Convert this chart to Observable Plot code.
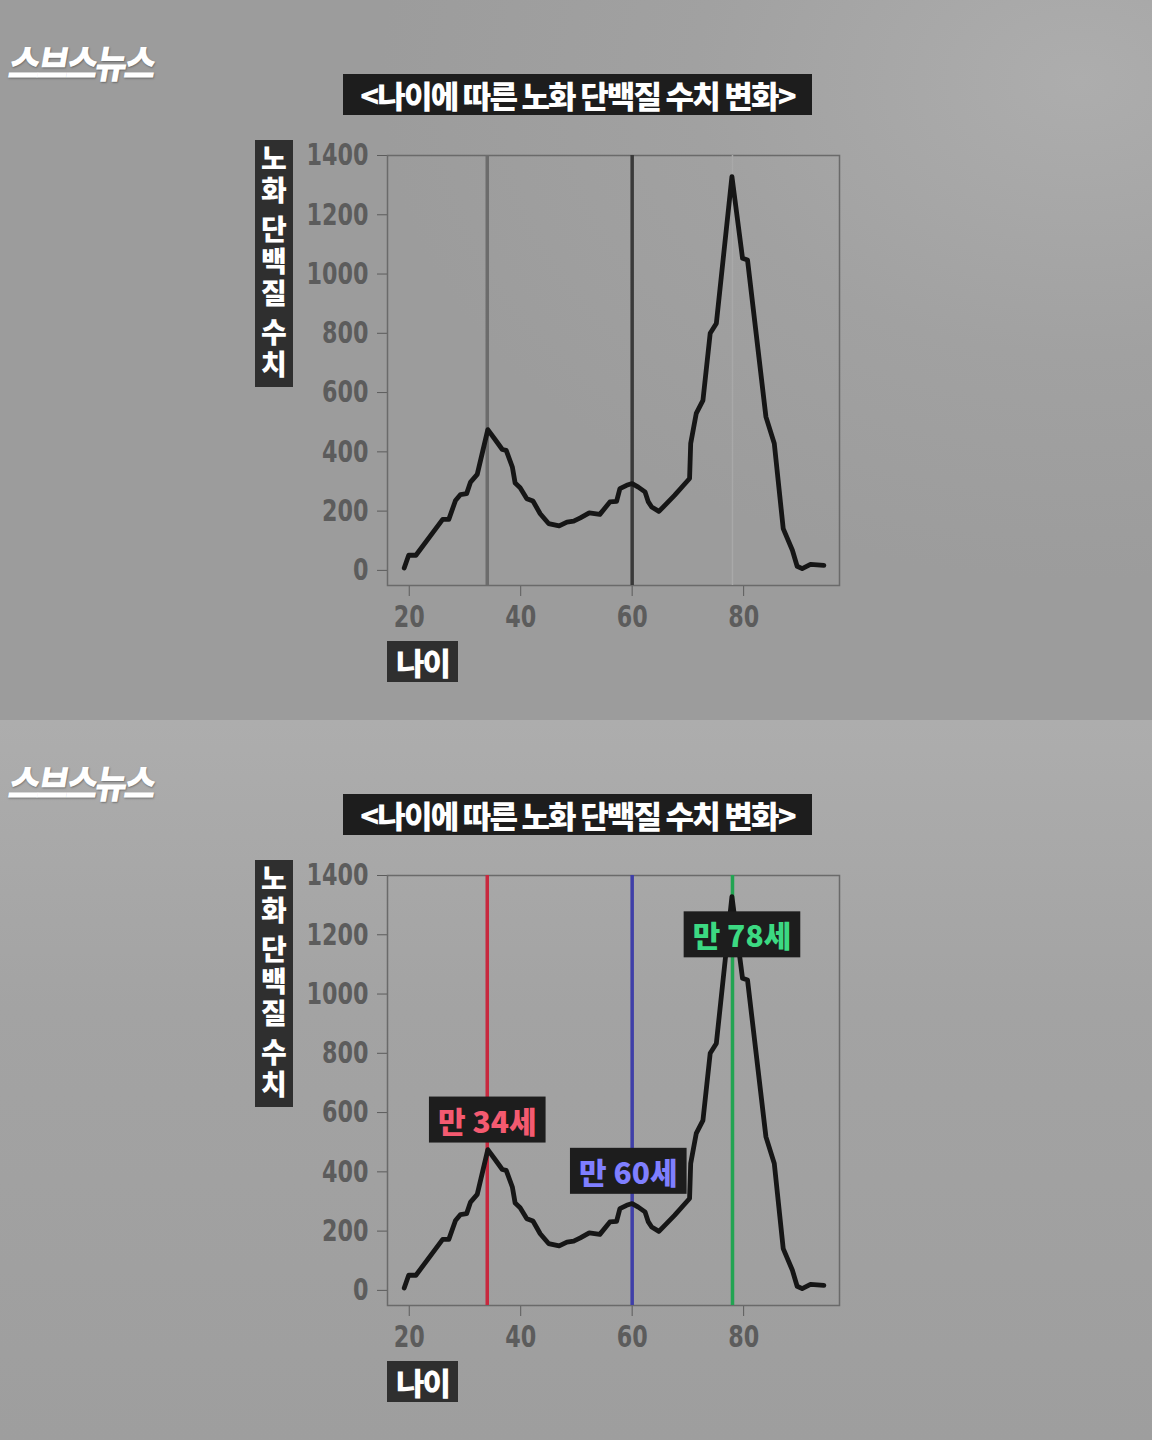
<!DOCTYPE html>
<html><head><meta charset="utf-8">
<script src="https://cdn.jsdelivr.net/npm/d3@7"></script>
<script src="https://cdn.jsdelivr.net/npm/@observablehq/plot@0.6"></script>
<style>
body{margin:0;width:1152px;height:1440px;overflow:hidden;background:#9e9e9e;}
.panel{position:relative;width:1152px;height:720px;overflow:hidden;}
#p1{background:radial-gradient(ellipse 700px 500px at 1080px 80px,#adadad 0%,#a1a1a1 55%,#9c9c9c 100%);}
#p2{background:linear-gradient(180deg,#adadad 0%,#a3a3a3 40%,#9e9e9e 100%);}
.box{position:absolute;background:#1d1d1d;color:#fff;font-family:"Noto Sans CJK KR";font-weight:900;display:flex;align-items:center;justify-content:center;white-space:nowrap;}
.logo{position:absolute;left:13px;color:#fff;font-family:"Noto Sans CJK KR";font-weight:900;font-size:39px;letter-spacing:-3px;transform-origin:0 0;transform:skewX(-10deg) scaleX(0.88);text-shadow:1px 1px 2px rgba(0,0,0,0.35);line-height:1;}
.ybox{position:absolute;left:255px;width:38px;height:247px;background:#2f2f2f;color:#fff;font-family:"Noto Sans CJK KR";font-weight:900;font-size:28px;box-sizing:border-box;padding-top:4px;display:flex;flex-direction:column;align-items:center;}
.ybox div{writing-mode:vertical-rl;text-orientation:upright;letter-spacing:4px;line-height:38px;white-space:nowrap;margin-bottom:7px;}
svg{position:absolute;left:0;top:0;}
</style></head>
<body>
<div class="panel" id="p1"></div>
<div class="panel" id="p2"></div>
<script>
// ---- data ----
const ages = [19.1,19.9,21.2,26.0,27.1,28.3,29.2,30.3,31.0,32.2,34.1,35.5,36.7,37.4,38.5,39.0,39.9,41.1,42.2,43.5,45.0,46.9,48.3,49.5,50.7,52.3,54.2,56.0,57.2,57.8,59.0,60.0,61.1,62.3,62.9,63.5,64.8,67.6,70.3,70.5,71.5,72.7,74.0,75.1,77.9,79.8,80.7,84.0,85.5,87.1,88.75,89.6,90.5,92.0,94.4];
const values = [8,51,51,172,172,236,256,259,298,324,475,439,408,405,349,295,279,242,234,191,158,150,163,166,177,194,189,231,233,276,287,293,281,265,231,214,199,253,310,428,530,574,800,833,1329,1053,1047,518,428,141,68,14,6,20,17];
const markerAges = [34, 60, 78];
const topRuleColors = ["#6c6c6c", "#3a3a3a", "#a9a9a9"];
const topRuleWidths = [3.5, 3.5, 1.5];
const bottomRuleColors = ["#c8283e", "#3f3fa8", "#22a452"];
const labelTexts = ["만 34세", "만 60세", "만 78세"];
const labelX = [34, 59.3, 79.7];
const labelY = [565, 392, 1190];
const labelColors = ["#f45a70", "#7f7fff", "#3cd982"];
const xTicks = [20, 40, 60, 80];
const yTicks = [0, 200, 400, 600, 800, 1000, 1200, 1400];
const titleText = "<나이에 따른 노화 단백질 수치 변화>";
const yTitleWords = ["노화", "단백질", "수치"];
const xTitle = "나이";
const logoText = "스브스뉴스";

const series = ages.map((a, i) => ({age: a, value: values[i]}));
const rules = markerAges.map((a, i) => ({age: a, i}));
const labels = labelTexts.map((t, i) => ({t, x: labelX[i], y: labelY[i], c: labelColors[i]}));

function makePlot(bottom) {
  const marks = [
    Plot.frame({stroke: "#6a6a6a", strokeWidth: 1.5}),
    Plot.ruleX(rules, {x: "age",
      stroke: d => bottom ? bottomRuleColors[d.i] : topRuleColors[d.i],
      strokeWidth: d => bottom ? 3.5 : topRuleWidths[d.i]}),
    Plot.line(series, {x: "age", y: "value", stroke: "#161616", strokeWidth: 4.8, strokeLinejoin: "round", strokeLinecap: "round"})
  ];
  if (bottom) {
    marks.push(Plot.text(labels, {x: "x", y: "y", text: "t", fill: "c",
      fontSize: 30, fontWeight: 900, fontFamily: "Noto Sans CJK KR",
      textAnchor: "middle", lineAnchor: "middle"}));
  }
  return Plot.plot({
    width: 1152, height: 720,
    marginLeft: 387, marginRight: 313, marginTop: 155, marginBottom: 135,
    style: {background: "transparent", color: "#5c5c5c", fontSize: "31px",
      fontFamily: "'DejaVu Sans',sans-serif",
      fontWeight: "bold", overflow: "visible"},
    x: {domain: [16.1, 97.2], ticks: xTicks, tickSize: 11, tickPadding: 8, label: null, tickFormat: d => String(d)},
    y: {domain: [-51, 1400], ticks: yTicks, tickSize: 10, tickPadding: 9, label: null, tickFormat: d => String(d)},
    marks
  });
}

function postProcess(svg, bottom) {
  // condense tick labels like the reference's narrow digits
  svg.querySelectorAll('g[aria-label$="tick label"] text').forEach(t => {
    const n = t.textContent.length;
    t.setAttribute("textLength", (n * 15.5).toFixed(1));
    t.setAttribute("lengthAdjust", "spacingAndGlyphs");
  });
  if (!bottom) return;
  svg.querySelectorAll('g[aria-label="text"] text').forEach(t => {
    const b = t.getBBox();
    const r = document.createElementNS("http://www.w3.org/2000/svg", "rect");
    r.setAttribute("x", b.x - 9); r.setAttribute("y", b.y - 1);
    r.setAttribute("width", b.width + 18); r.setAttribute("height", b.height + 2);
    r.setAttribute("fill", "#1d1d1d");
    const tr = t.getAttribute("transform");
    if (tr) r.setAttribute("transform", tr);
    t.parentNode.insertBefore(r, t);
  });
}

function buildPanel(id, bottom) {
  const p = document.getElementById(id);
  const svg = makePlot(bottom);
  p.appendChild(svg);
  postProcess(svg, bottom);
  const logo = document.createElement("div");
  logo.className = "logo"; logo.style.top = "42px"; logo.textContent = logoText;
  p.appendChild(logo);
  const title = document.createElement("div");
  title.className = "box";
  Object.assign(title.style, {left: "343px", top: "74px", width: "469px", height: "41px", fontSize: "31px", letterSpacing: "-1.8px"});
  title.textContent = titleText;
  p.appendChild(title);
  const yb = document.createElement("div");
  yb.className = "ybox"; yb.style.top = "140px";
  yTitleWords.forEach(w => {
    const d = document.createElement("div");
    d.textContent = w;
    yb.appendChild(d);
  });
  p.appendChild(yb);
  const xb = document.createElement("div");
  xb.className = "box";
  Object.assign(xb.style, {left: "387px", top: "641px", width: "71px", height: "41px", fontSize: "31px", letterSpacing: "-2px", background: "#2f2f2f"});
  xb.textContent = xTitle;
  p.appendChild(xb);
}
buildPanel("p1", false);
buildPanel("p2", true);
</script>
</body></html>
